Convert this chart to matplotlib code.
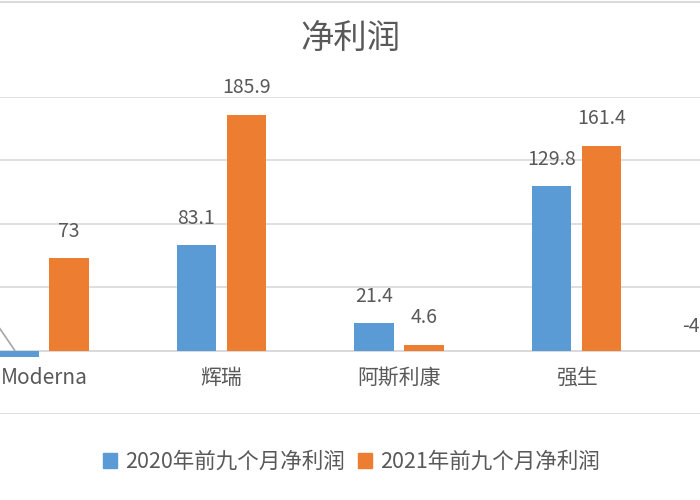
import numpy as np
import matplotlib
matplotlib.use("Agg")
import matplotlib.pyplot as plt
from matplotlib.lines import Line2D
from matplotlib.patches import Patch

plt.rcParams['font.family'] = ['Noto Sans CJK SC', 'DejaVu Sans']

categories = ["Moderna", "辉瑞", "阿斯利康", "强生", "Novavax"]
series_names = ["2020年前九个月净利润", "2021年前九个月净利润"]
values_2020 = [-4.7, 83.1, 21.4, 129.8, -4.0]
values_2021 = [73, 185.9, 4.6, 161.4, np.nan]
labels_2020 = ["-4.7", "83.1", "21.4", "129.8", "-4.0"]
labels_2021 = ["73", "185.9", "4.6", "161.4", ""]
title = "净利润"

BLUE = "#5B9BD5"
ORANGE = "#ED7D31"
GRID = "#D9D9D9"
TEXT = "#595959"
PX = 72 / 100  # points per pixel

fig = plt.figure(figsize=(7, 5), dpi=100)
ax = fig.add_axes([0.0, 1 - 414 / 500, 1.0, (414 - 97) / 500])

x = np.arange(len(categories))
w = 0.223
off = 0.141
ax.bar(x - off, values_2020, w, color=BLUE, zorder=3)
ax.bar(x + off, values_2021, w, color=ORANGE, zorder=3)

ax.set_ylim(-50, 200)
ax.set_yticks(np.arange(-50, 201, 50))
ax.set_xlim(-44 / 177.5, (700 - 44) / 177.5)
ax.grid(axis='y', color=GRID, linewidth=1.2, zorder=0)
ax.axhline(0, color=GRID, linewidth=1.2, zorder=1)
for s in ax.spines.values():
    s.set_visible(False)
ax.tick_params(left=False, bottom=False, labelleft=False, labelbottom=False)

# value labels
for i in range(1, 4):
    ax.annotate(labels_2020[i], (x[i] - off, values_2020[i]), xytext=(0, 27 * PX),
                textcoords='offset points', ha='center', va='center',
                fontsize=14, color=TEXT, annotation_clip=False)
    ax.annotate(labels_2021[i], (x[i] + off, values_2021[i]), xytext=(0, 27 * PX),
                textcoords='offset points', ha='center', va='center',
                fontsize=14, color=TEXT, annotation_clip=False)
ax.annotate(labels_2021[0], (x[0] + off, values_2021[0]), xytext=(0, 27 * PX),
            textcoords='offset points', ha='center', va='center',
            fontsize=14, color=TEXT, annotation_clip=False)
# Moderna 2020 label moved with a leader line
ax.annotate(labels_2020[0], (x[0] - off - 0.023, 0), xytext=(-43 * PX, 25 * PX),
            textcoords='offset points', ha='center', va='center',
            fontsize=14, color=TEXT, annotation_clip=False,
            arrowprops=dict(arrowstyle='-', color="#A6A6A6", lw=1.2,
                            shrinkA=0, shrinkB=0,
                            connectionstyle='arc,angleA=0,armA=%f,angleB=0,armB=0,rad=0' % (36 * PX)))
# fifth category 2020 label (moved)
ax.annotate(labels_2020[4], (x[4] - off, 0), xytext=(-47 * PX, 24 * PX),
            textcoords='offset points', ha='left', va='center',
            fontsize=14, color=TEXT, annotation_clip=False)

# category labels next to the axis
for i, c in enumerate(categories):
    ax.annotate(c, (x[i], 0), xytext=(0, -27 * PX), textcoords='offset points',
                ha='center', va='center', fontsize=15, color=TEXT,
                annotation_clip=False)

fig.text(0.5, 1 - 38 / 500, title, ha='center', va='center', fontsize=24,
         color=TEXT, fontweight='light')

handles = [Patch(color=BLUE), Patch(color=ORANGE)]
fig.legend(handles, series_names, loc='center', bbox_to_anchor=(0.502, 1 - 462 / 500),
           ncol=2, frameon=False, fontsize=15.5, labelcolor=TEXT,
           handlelength=0.65, handleheight=0.65, handletextpad=0.4, columnspacing=0.6)

fig.add_artist(Line2D([0, 1], [1 - 1.5 / 500] * 2, color=GRID, lw=1.5, transform=fig.transFigure))

fig.savefig("out.png", dpi=100)
